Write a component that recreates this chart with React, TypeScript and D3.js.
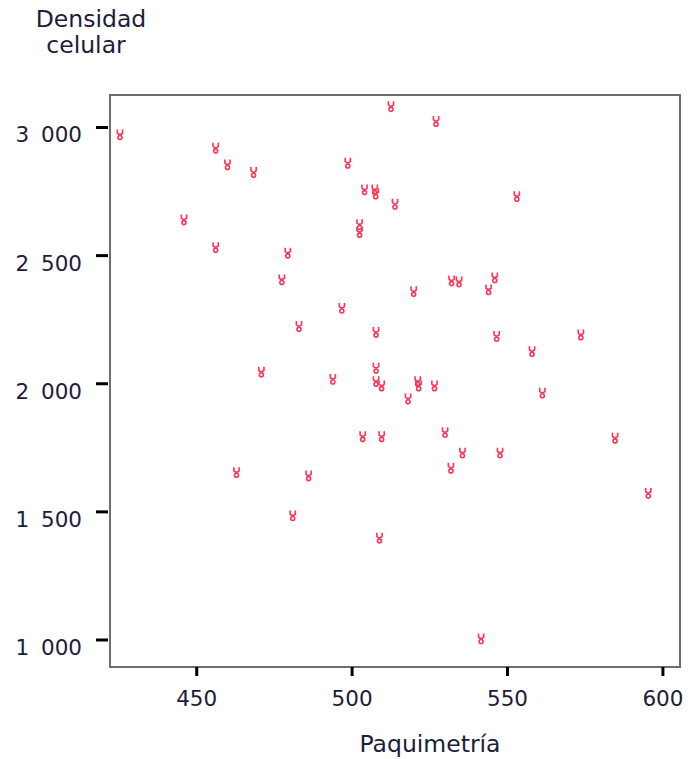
import React, { useEffect, useRef } from 'react';
import * as d3 from 'd3';

// Paquimetría (x) and Densidad celular (y)
const paquimetria = [
  425.3, 456.1, 459.9, 468.3, 445.9, 456.1, 479.3, 477.4, 512.5, 527.0,
  498.6, 504.0, 507.3, 507.6, 513.8, 502.4, 502.4, 553.0, 519.8, 532.0,
  534.4, 543.9, 545.9, 496.7, 482.9, 507.7, 546.5, 573.6, 557.9, 470.8,
  493.8, 507.7, 507.7, 509.5, 521.1, 521.4, 526.5, 518.0, 561.2, 503.4,
  509.5, 529.9, 535.5, 547.6, 584.6, 462.8, 486.0, 531.8, 480.9, 508.8,
  595.3, 541.5,
];
const densidad = [
  2971, 2919, 2854, 2824, 2639, 2531, 2509, 2405, 3081, 3023,
  2860, 2756, 2756, 2740, 2700, 2620, 2590, 2730, 2359, 2401,
  2397, 2366, 2413, 2294, 2223, 2200, 2184, 2190, 2125, 2045,
  2017, 2060, 2008, 1991, 2008, 1991, 1991, 1940, 1963, 1793,
  1793, 1809, 1729, 1729, 1787, 1653, 1640, 1670, 1484, 1397,
  1572, 1004,
];
const xTicks = [450, 500, 550, 600];
const yTicks = [1000, 1500, 2000, 2500, 3000];

const W = 693;
const H = 759;

const App = () => {
  const svgRef = useRef<SVGSVGElement>(null);

  useEffect(() => {
    const svg = d3.select(svgRef.current);
    svg.selectAll('*').remove();

    const left = 110, right = 680, top = 95, bottom = 667;
    const x = d3.scaleLinear().domain([422.1, 605.5]).range([left, right]);
    const y = d3.scaleLinear().domain([894.6, 3126.8]).range([bottom, top]);

    const fmt = d3.formatLocale({ decimal: ',', thousands: ' ', grouping: [3], currency: ['', ''] }).format(',d');
    const textColor = '#1c1c3c';
    const font = 'DejaVu Sans, Verdana, sans-serif';

    // frame
    svg.append('rect')
      .attr('x', left).attr('y', top)
      .attr('width', right - left).attr('height', bottom - top)
      .attr('fill', 'white')
      .attr('stroke', '#6e6e6e')
      .attr('stroke-width', 2);

    // y ticks
    const yg = svg.append('g');
    yTicks.forEach((v) => {
      yg.append('line')
        .attr('x1', 96).attr('x2', 108)
        .attr('y1', y(v)).attr('y2', y(v))
        .attr('stroke', 'black').attr('stroke-width', 3);
      yg.append('text')
        .attr('x', 82).attr('y', y(v) + 9)
        .attr('text-anchor', 'end')
        .attr('dominant-baseline', 'middle')
        .attr('font-family', font).attr('font-size', 21.5)
        .attr('word-spacing', 5)
        .attr('fill', textColor)
        .text(fmt(v));
    });

    // x ticks
    const xg = svg.append('g');
    xTicks.forEach((v) => {
      xg.append('line')
        .attr('x1', x(v)).attr('x2', x(v))
        .attr('y1', bottom).attr('y2', bottom + 9)
        .attr('stroke', 'black').attr('stroke-width', 3);
      xg.append('text')
        .attr('x', x(v)).attr('y', 706)
        .attr('text-anchor', 'middle')
        .attr('font-family', font).attr('font-size', 21.5)
        .attr('fill', textColor)
        .text(v);
    });

    // axis titles
    const yTitle = svg.append('text')
      .attr('text-anchor', 'middle')
      .attr('font-family', font).attr('font-size', 23.5)
      .attr('fill', textColor);
    yTitle.append('tspan').attr('x', 91).attr('y', 27).text('Densidad');
    yTitle.append('tspan').attr('x', 86).attr('y', 53).text('celular');

    svg.append('text')
      .attr('x', 430).attr('y', 752)
      .attr('text-anchor', 'middle')
      .attr('font-family', font).attr('font-size', 23.5)
      .attr('fill', textColor)
      .text('Paquimetría');

    // markers: small taurus-like glyph
    const pts = paquimetria.map((p, i) => [p, densidad[i]]);
    const marks = svg.append('g')
      .attr('fill', 'none')
      .attr('stroke', '#ff3355')
      .attr('stroke-width', 1.6);
    pts.forEach(([px, py]) => {
      const g = marks.append('g').attr('transform', `translate(${x(px)},${y(py)})`);
      g.append('path').attr('d', 'M-2.6,-5.5 L-2.6,-1.8 Q0,1 2.6,-1.8 L2.6,-5.5');
      g.append('circle').attr('cx', 0).attr('cy', 2.6).attr('r', 2);
    });
  }, []);

  return (
    <svg ref={svgRef} width={W} height={H} style={{ position: 'absolute', left: 0, top: 0, background: 'white' }}></svg>
  );
};

export default App;
